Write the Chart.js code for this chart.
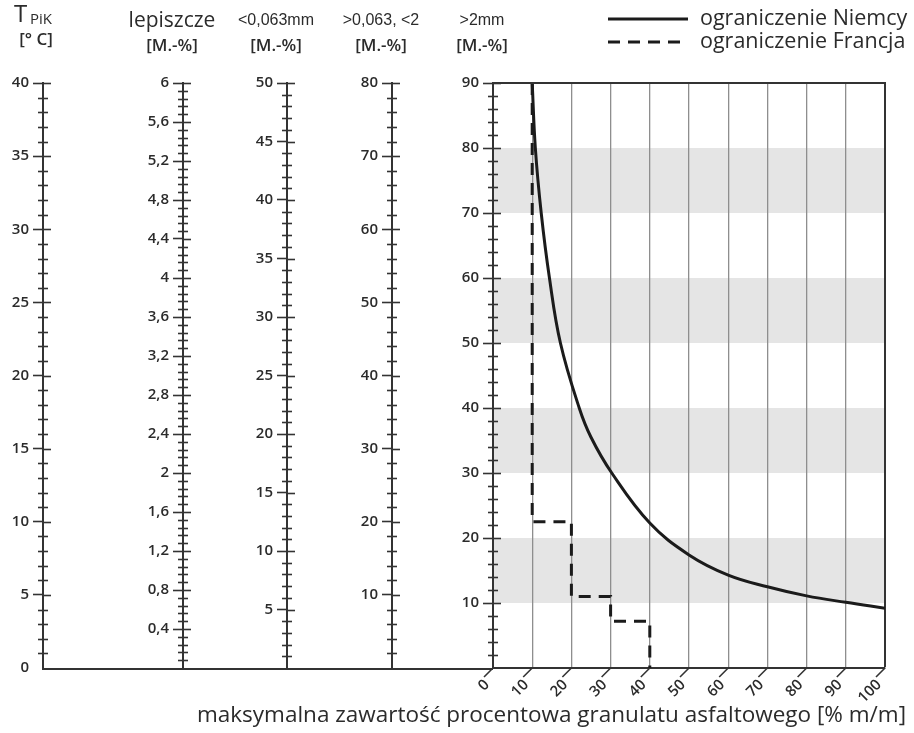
<!DOCTYPE html>
<html lang="pl">
<head>
<meta charset="utf-8">
<title>Granulat asfaltowy - nomogram</title>
<script src="https://cdn.jsdelivr.net/npm/chart.js@4.4.1/dist/chart.umd.min.js"></script>
<style>
  html, body { margin: 0; padding: 0; background: #fff; }
  canvas { display: block; }
</style>
</head>
<body>
<canvas id="chart" width="914" height="733"></canvas>
<script>
const xTicks = [0, 10, 20, 30, 40, 50, 60, 70, 80, 90, 100];
const tempTicks = [0, 5, 10, 15, 20, 25, 30, 35, 40];
const binderTicks = [0.4, 0.8, 1.2, 1.6, 2, 2.4, 2.8, 3.2, 3.6, 4, 4.4, 4.8, 5.2, 5.6, 6];
const fineTicks = [5, 10, 15, 20, 25, 30, 35, 40, 45, 50];
const sandTicks = [10, 20, 30, 40, 50, 60, 70, 80];
const coarseTicks = [10, 20, 30, 40, 50, 60, 70, 80, 90];

// ograniczenie Niemcy (krzywa)
const germanyX = [10, 10.8, 12.3, 14.4, 17.2, 22, 25, 30.3, 40, 50, 60, 70, 80, 90, 100];
const germanyY = [90, 80, 70, 60, 50, 40, 35.5, 30, 22.3, 17.4, 14.3, 12.5, 11.1, 10.1, 9.2];
// ograniczenie Francja (schodki)
const franceX = [10, 10, 20, 20, 30, 30, 40, 40];
const franceY = [90, 22.5, 22.5, 11, 11, 7.2, 7.2, 0];

// szare pasy w tle (skala >2mm)
const bands = [[10, 20], [30, 40], [50, 60], [70, 80]];

const tempTitle = ['T', 'PiK', '[° C]'];
const axisTitles = [
  ['lepiszcze', '[M.-%]'],
  ['<0,063mm', '[M.-%]'],
  ['>0,063, <2', '[M.-%]'],
  ['>2mm', '[M.-%]']
];
const xTitle = 'maksymalna zawartość procentowa granulatu asfaltowego [% m/m]';

const AXIS = '#333';
const TEXT = '#2b2b2b';
const tickFont = { family: '"Open Sans"', size: 15, weight: '600' };

// osie pionowe ułożone od lewej: szerokość pola każdej osi w px
const axisOrder = ['yTemp', 'yBinder', 'yFine', 'ySand', 'y'];
const axisWidth = { yTemp: 43, yBinder: 140, yFine: 104, ySand: 105, y: 101 };
const minorStep = { yTemp: 1, yBinder: 0.08, yFine: 1, ySand: 2, y: 2 };

function sideAxis(id, min, max, values) {
  return {
    type: 'linear',
    position: 'left',
    weight: axisOrder.length - axisOrder.indexOf(id),
    min: min,
    max: max,
    afterBuildTicks: s => { s.ticks = values.map(v => ({ value: v })); },
    afterFit: s => { s.width = axisWidth[id]; },
    grid: {
      drawOnChartArea: false,
      tickLength: 10,
      tickWidth: 1.6,
      tickColor: c => c.tick && c.tick.value === 0 ? 'rgba(0,0,0,0)' : AXIS
    },
    border: { display: true, color: AXIS, width: 2 },
    ticks: {
      padding: 4,
      color: TEXT,
      font: tickFont,
      callback: v => String(v).replace('.', ',')
    }
  };
}

const bgBands = {
  id: 'bgBands',
  beforeDraw(chart) {
    const { ctx, scales: { x, y } } = chart;
    ctx.save();
    ctx.fillStyle = '#e5e5e5';
    const x0 = x.getPixelForValue(0), x1 = x.getPixelForValue(100);
    bands.forEach(([a, b]) => {
      const top = y.getPixelForValue(b), bot = y.getPixelForValue(a);
      ctx.fillRect(x0, top, x1 - x0, bot - top);
    });
    ctx.restore();
  }
};

const axisDecor = {
  id: 'axisDecor',
  afterDraw(chart) {
    const ctx = chart.ctx;
    const xs = chart.scales.x;
    const area = chart.chartArea;
    ctx.save();
    ctx.strokeStyle = AXIS;
    ctx.lineWidth = 1.6;

    // drobna podziałka po obu stronach osi, prawa część głównych kresek
    axisOrder.forEach(id => {
      const s = chart.scales[id];
      const px = Math.round(s.right);
      const n = Math.round((s.max - s.min) / minorStep[id]);
      const majors = s.ticks.map(t => t.value);
      for (let i = 1; i <= n; i++) {
        const v = s.min + i * minorStep[id];
        const major = majors.some(m => Math.abs(m - v) < 1e-6);
        const py = Math.round(s.getPixelForValue(v)) + 0.5;
        ctx.beginPath();
        ctx.moveTo(major ? px : px - 5, py);
        ctx.lineTo(px + (major ? 8 : 5), py);
        ctx.stroke();
      }
    });

    // ukośne kreski pod osią x
    xs.ticks.forEach(t => {
      const px = xs.getPixelForValue(t.value);
      ctx.beginPath();
      ctx.moveTo(px, area.bottom);
      ctx.lineTo(px - 9, area.bottom + 9);
      ctx.stroke();
    });

    // dolna linia pod osiami bocznymi i górna krawędź pola wykresu
    ctx.lineWidth = 2;
    ctx.beginPath();
    ctx.moveTo(chart.scales.yTemp.right - 1, area.bottom + 1);
    ctx.lineTo(area.left, area.bottom + 1);
    ctx.moveTo(area.left, area.top);
    ctx.lineTo(area.right + 1, area.top);
    ctx.stroke();

    // nagłówki osi
    ctx.fillStyle = TEXT;
    ctx.textBaseline = 'middle';
    ctx.textAlign = 'left';
    ctx.font = '24px "Open Sans"';
    ctx.fillText(tempTitle[0], 14, 15);
    ctx.font = '15px "Open Sans"';
    ctx.fillText(tempTitle[1], 30, 20);
    ctx.textAlign = 'center';
    ctx.font = '600 17px "Open Sans"';
    ctx.fillText(tempTitle[2], 36, 40);

    axisOrder.slice(1).forEach((id, i) => {
      const cx = chart.scales[id].right - 11;
      ctx.font = i === 0 ? '21px "Open Sans"' : '16px "Liberation Sans"';
      ctx.fillText(axisTitles[i][0], cx, 21);
      ctx.font = '600 17px "Open Sans"';
      ctx.fillText(axisTitles[i][1], cx, 46);
    });

    // opis osi x
    ctx.textAlign = 'right';
    ctx.font = '22.5px "Open Sans"';
    ctx.fillText(xTitle, 906, 716);

    // legenda
    ctx.textAlign = 'left';
    ctx.font = '21.5px "Open Sans"';
    chart.data.datasets.forEach((ds, i) => {
      const ly = 19 + i * 23;
      ctx.strokeStyle = ds.borderColor;
      ctx.lineWidth = ds.borderWidth;
      ctx.setLineDash(ds.borderDash || []);
      ctx.beginPath();
      ctx.moveTo(608, ly);
      ctx.lineTo(688, ly);
      ctx.stroke();
      ctx.fillText(ds.label, 700, ly);
    });
    ctx.restore();
  }
};

new Chart(document.getElementById('chart'), {
  type: 'line',
  data: {
    datasets: [
      {
        label: 'ograniczenie Niemcy',
        data: germanyX.map((x, i) => ({ x: x, y: germanyY[i] })),
        borderColor: '#1b1b1b',
        borderWidth: 3,
        pointRadius: 0,
        tension: 0.4,
        yAxisID: 'y'
      },
      {
        label: 'ograniczenie Francja',
        data: franceX.map((x, i) => ({ x: x, y: franceY[i] })),
        borderColor: '#1b1b1b',
        borderWidth: 3,
        borderDash: [12, 8],
        pointRadius: 0,
        tension: 0,
        yAxisID: 'y'
      }
    ]
  },
  options: {
    responsive: false,
    animation: false,
    layout: { padding: { top: 83, left: 0, right: 29, bottom: 0 } },
    plugins: {
      legend: { display: false },
      tooltip: { enabled: false }
    },
    scales: {
      x: {
        type: 'linear',
        position: 'bottom',
        min: 0,
        max: 100,
        afterBuildTicks: s => { s.ticks = xTicks.map(v => ({ value: v })); },
        afterFit: s => { s.height = 65; },
        grid: {
          drawTicks: false,
          color: c => c.tick.value === 0 ? 'rgba(0,0,0,0)' : (c.tick.value === 100 ? AXIS : '#8e8e8e'),
          lineWidth: c => c.tick.value === 100 ? 2 : 1.3
        },
        border: { display: true, color: AXIS, width: 2 },
        ticks: {
          autoSkip: false,
          minRotation: 45,
          maxRotation: 45,
          padding: 8,
          labelOffset: -6,
          color: TEXT,
          font: tickFont
        }
      },
      yTemp: sideAxis('yTemp', 0, 40, tempTicks),
      yBinder: sideAxis('yBinder', 0, 6, binderTicks),
      yFine: sideAxis('yFine', 0, 50, fineTicks),
      ySand: sideAxis('ySand', 0, 80, sandTicks),
      y: sideAxis('y', 0, 90, coarseTicks)
    }
  },
  plugins: [bgBands, axisDecor]
});
</script>
</body>
</html>
